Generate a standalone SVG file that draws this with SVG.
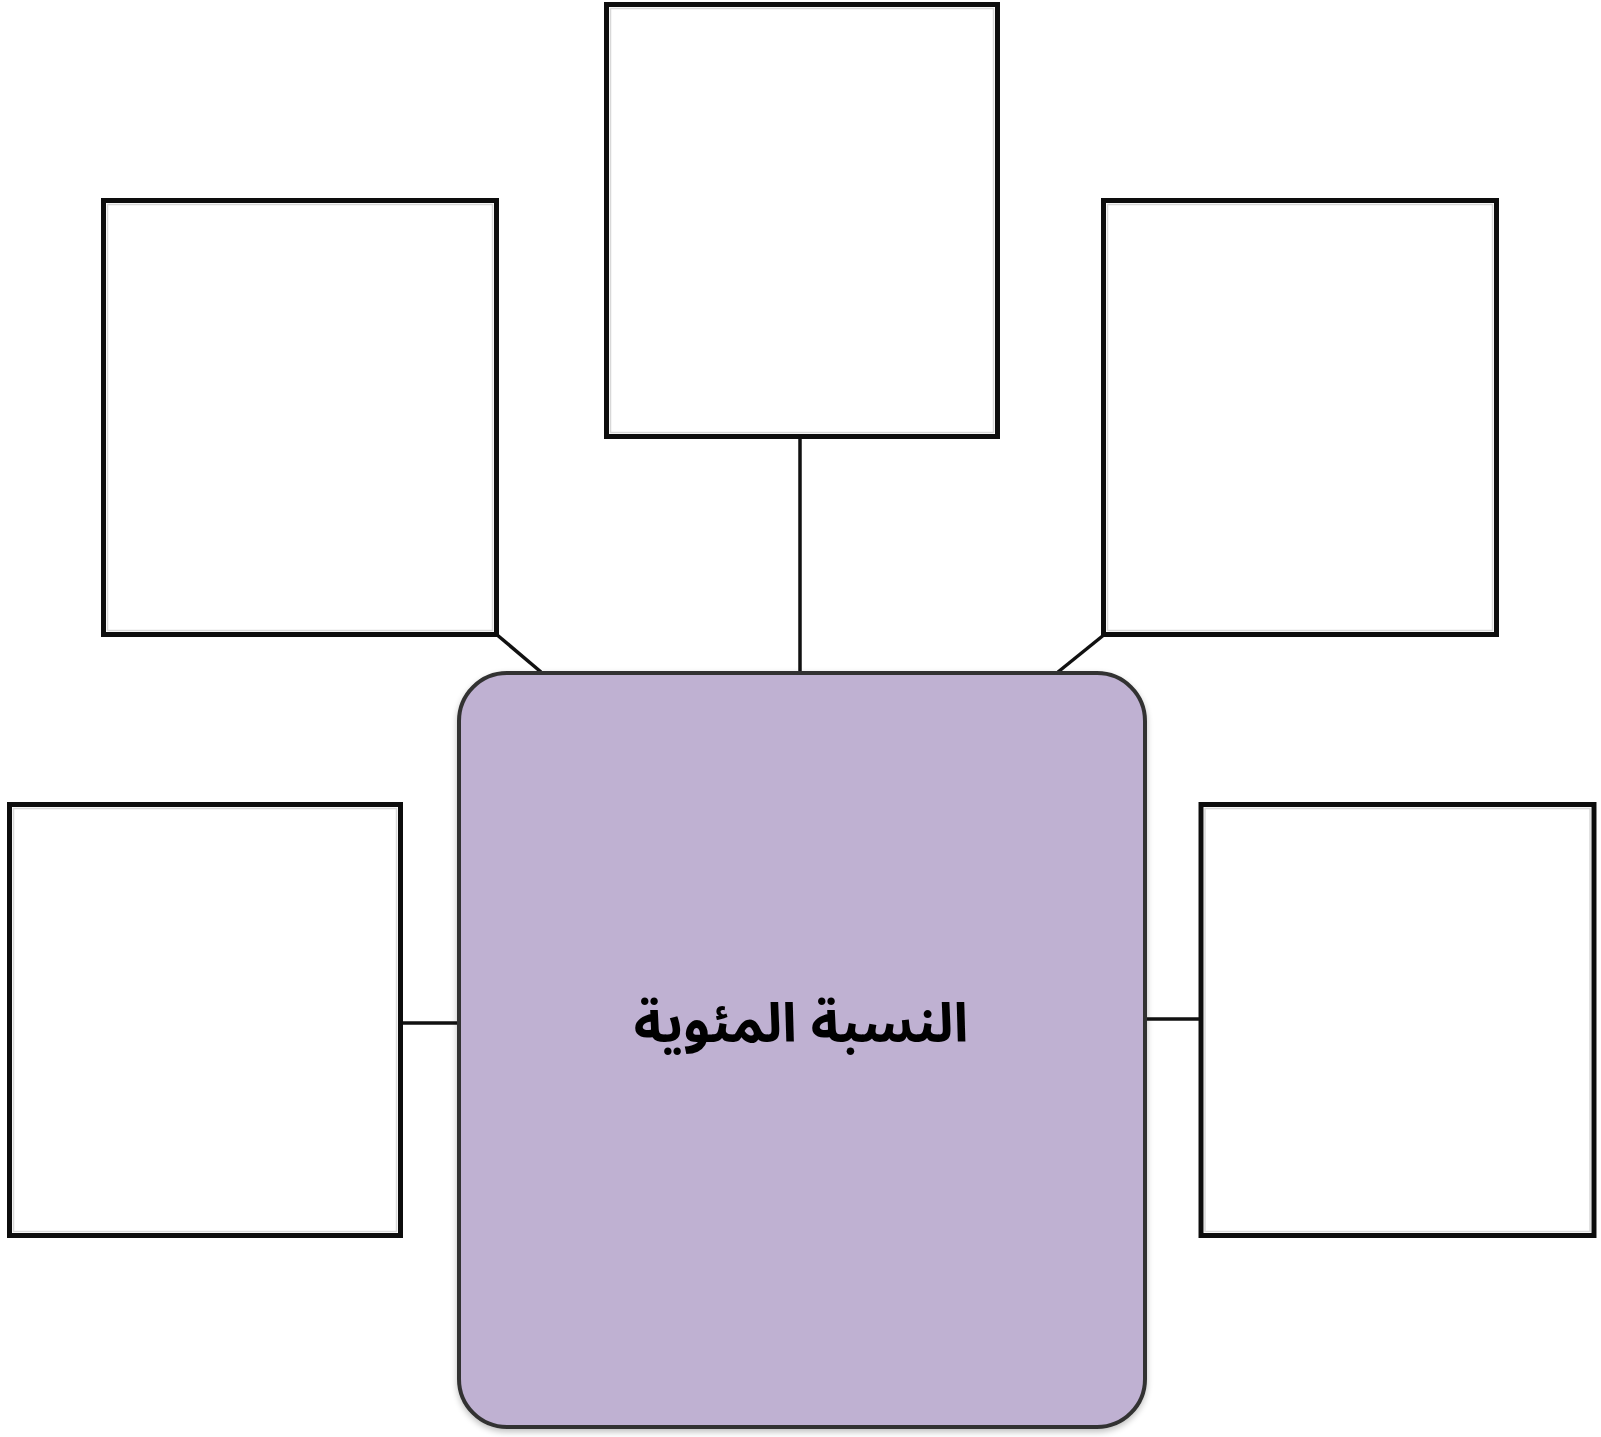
<svg xmlns="http://www.w3.org/2000/svg" width="1601" height="1437" viewBox="0 0 1601 1437">
  <defs>
    <filter id="soft" x="-5%" y="-5%" width="110%" height="110%">
      <feGaussianBlur stdDeviation="0.7"/>
    </filter>
    <filter id="shadow" x="-5%" y="-5%" width="110%" height="110%">
      <feGaussianBlur in="SourceAlpha" stdDeviation="3"/>
      <feOffset dx="0" dy="3" result="b"/>
      <feComponentTransfer><feFuncA type="linear" slope="0.25"/></feComponentTransfer>
      <feMerge><feMergeNode/><feMergeNode in="SourceGraphic"/></feMerge>
    </filter>
  </defs>
  <style>
    .box { fill: #ffffff; stroke: #111111; stroke-width: 5; filter: url(#soft); }
    .inner { fill: none; stroke: #d8d8d8; stroke-width: 1.5; }
    .conn { stroke: #111111; stroke-width: 3.5; fill: none; }
    .center { fill: #BFB1D2; stroke: #333333; stroke-width: 4; }
    .label { font-family: "Noto Sans Arabic", "DejaVu Sans", sans-serif; font-weight: bold; font-size: 54px; fill: #000000; }
  </style>
  <rect width="1601" height="1437" fill="#ffffff"/>

  <g id="connectors">
    <line class="conn" x1="800" y1="437" x2="800" y2="673"/>
    <line class="conn" x1="496" y1="634" x2="541" y2="672"/>
    <line class="conn" x1="1105" y1="634" x2="1058" y2="672"/>
    <line class="conn" x1="401" y1="1023" x2="459" y2="1023"/>
    <line class="conn" x1="1145" y1="1019" x2="1201" y2="1019"/>
  </g>

  <g id="box-top-left">
    <rect class="box" x="103.5" y="200.5" width="393" height="434"/>
    <rect class="inner" x="107.5" y="204.5" width="385" height="426"/>
  </g>
  <g id="box-top-center">
    <rect class="box" x="606.5" y="4.5" width="391" height="432"/>
    <rect class="inner" x="610.5" y="8.5" width="383" height="424"/>
  </g>
  <g id="box-top-right">
    <rect class="box" x="1103.5" y="200.5" width="393" height="434"/>
    <rect class="inner" x="1107.5" y="204.5" width="385" height="426"/>
  </g>
  <g id="box-bottom-left">
    <rect class="box" x="9.5" y="804.5" width="391" height="431"/>
    <rect class="inner" x="13.5" y="808.5" width="383" height="423"/>
  </g>
  <g id="box-bottom-right">
    <rect class="box" x="1201" y="804.5" width="393" height="431"/>
    <rect class="inner" x="1205" y="808.5" width="385" height="423"/>
  </g>

  <g id="center-node" filter="url(#shadow)">
    <rect class="center" x="459" y="673" width="686" height="754" rx="48" ry="48"/>
    <text class="label" x="801" y="1042" text-anchor="middle" direction="rtl">النسبة المئوية</text>
  </g>
</svg>
